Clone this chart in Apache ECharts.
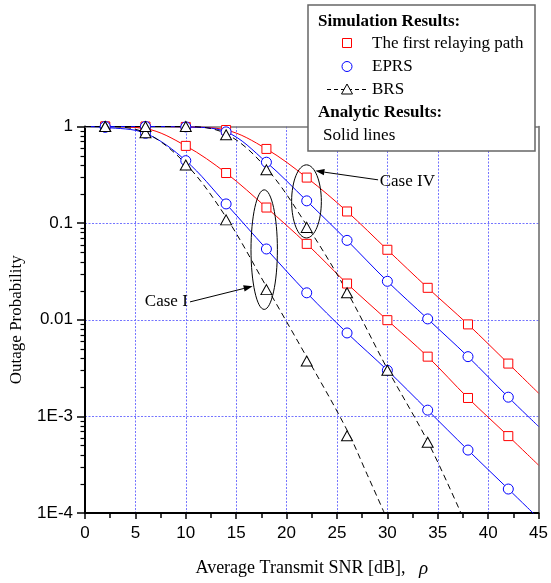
<!DOCTYPE html>
<html>
<head>
<meta charset="utf-8">
<script src="https://cdn.jsdelivr.net/npm/echarts@6/dist/echarts.min.js"></script>
<style>
html, body { margin: 0; padding: 0; background: #fff; }
#chart { width: 551px; height: 583px; }
</style>
</head>
<body>
<div id="chart"></div>
<script>
// ---- values ----
// simulation markers (every 4 dB)
const markerSnr = [2, 6, 10, 14, 18, 22, 26, 30, 34, 38, 42];
const firstPathI = [1, 0.95, 0.63, 0.33, 0.145, 0.061, 0.0237, 0.0099, 0.00415, 0.00155, 0.000625];
const firstPathIV = [1, 1, 0.99, 0.92, 0.586, 0.296, 0.132, 0.053, 0.0214, 0.00895, 0.00352];
const eprsI = [0.98, 0.85, 0.443, 0.158, 0.054, 0.019, 0.0073, 0.003, 0.00116, 0.000448, 0.000177];
const eprsIV = [1, 1, 0.99, 0.88, 0.427, 0.17, 0.0663, 0.025, 0.0102, 0.00415, 0.00158];
const brsSnrI = [2, 6, 10, 14, 18, 22, 26];
const brsI = [1, 0.86, 0.40, 0.108, 0.0205, 0.00374, 0.00063];
const brsSnrIV = [2, 6, 10, 14, 18, 22, 26, 30, 34];
const brsIV = [1, 1, 1, 0.82, 0.356, 0.0903, 0.019, 0.003, 0.00054];

// analytic curves (solid)
const curveSnr = [0, 2, 6, 10, 14, 18, 22, 26, 30, 34, 38, 42, 45];
const firstPathCurveI = [1, 1, 0.95, 0.63, 0.33, 0.145, 0.061, 0.0237, 0.0099, 0.00415, 0.00155, 0.000625, 0.000313];
const firstPathCurveIV = [1, 1, 1, 0.99, 0.92, 0.586, 0.296, 0.132, 0.053, 0.0214, 0.00895, 0.00352, 0.00174];
const eprsCurveI = [1, 0.98, 0.85, 0.443, 0.158, 0.054, 0.019, 0.0073, 0.003, 0.00116, 0.000448, 0.000177, 0.000088];
const eprsCurveIV = [1, 1, 1, 0.99, 0.88, 0.427, 0.17, 0.0663, 0.025, 0.0102, 0.00415, 0.00158, 0.000787];
// BRS dashed curves
const brsCurveSnrI = [0, 2, 6, 10, 14, 18, 22, 26, 28, 29.7];
const brsCurveI = [1, 1, 0.86, 0.41, 0.115, 0.022, 0.0041, 0.00072, 0.00025, 0.0001];
const brsCurveSnrIV = [0, 6, 10, 14, 18, 22, 26, 30, 34, 37.3];
const brsCurveIV = [1, 1, 1, 0.84, 0.37, 0.095, 0.0195, 0.0031, 0.00055, 0.0001];

// axis ticks
const yTickValues = [1e-4, 1e-3, 0.01, 0.1, 1];
const yTickLabels = ['1E-4', '1E-3', '0.01', '0.1', '1'];
const yMinorSteps = [2, 3, 4, 5, 6, 7, 8, 9];

// annotations: [x, y] in data units
const caseIEllipse = [[16.47, 0.221], [19.09, 0.0128]];
const caseIArrow = [[10.42, 0.0153], [16.63, 0.0222]];
const caseILabel = [10.2, 0.0155];
const caseIVEllipse = [[20.5, 0.401], [23.45, 0.0702]];
const caseIVArrow = [[29.08, 0.2805], [22.86, 0.3474]];
const caseIVLabel = [29.24, 0.269];

const SANS = '"Liberation Sans", Arial, sans-serif';
const SERIF = '"Liberation Serif", "Times New Roman", serif';
const RED = '#ff0000';
const BLUE = '#0000ff';
const GRID = '#7474ff';

const zip = (xs, ys) => xs.map((x, i) => [x, ys[i]]);

function curve(name, xs, ys, color, dashed) {
  return {
    name: name,
    type: 'line',
    data: zip(xs, ys),
    smooth: 0.35,
    showSymbol: false,
    clip: true,
    silent: true,
    lineStyle: { color: color, width: 1, type: dashed ? [6, 4] : 'solid' },
    z: 2
  };
}

function markers(name, xs, ys, symbol, size, color) {
  return {
    name: name,
    type: 'scatter',
    data: zip(xs, ys),
    symbol: symbol,
    symbolSize: size,
    itemStyle: { color: '#fff', borderColor: color, borderWidth: 1, opacity: 1 },
    z: 3
  };
}

const chart = echarts.init(document.getElementById('chart'));

const option = {
  animation: false,
  backgroundColor: '#fff',
  grid: { left: 84, right: 9, top: 126.5, bottom: 69 },
  xAxis: [{
    type: 'value',
    min: 0, max: 45, interval: 5,
    axisLine: { show: true, onZero: false, lineStyle: { color: '#000', width: 2 } },
    axisTick: { show: true, inside: false, length: 6, lineStyle: { color: '#000', width: 1.5 } },
    minorTick: { show: true, splitNumber: 2, length: 5, lineStyle: { color: '#000', width: 1.5 } },
    axisLabel: { color: '#000', fontFamily: SANS, fontSize: 17, margin: 12 },
    splitLine: { show: true, showMinLine: false, showMaxLine: false, lineStyle: { color: GRID, type: [2, 1.5], width: 1 } },
    name: 'Average Transmit SNR [dB],   {i|ρ}',
    nameLocation: 'middle',
    nameGap: 46,
    nameTextStyle: {
      color: '#000', fontFamily: SERIF, fontSize: 18,
      rich: { i: { fontStyle: 'italic', fontFamily: SERIF, fontSize: 19, color: '#000' } }
    }
  }, {
    type: 'value', position: 'top', min: 0, max: 45,
    axisLine: { show: true, onZero: false, lineStyle: { color: '#777', width: 1.5 } },
    axisTick: { show: false }, axisLabel: { show: false }, splitLine: { show: false }
  }],
  yAxis: [{
    type: 'log', logBase: 10, min: 1e-4, max: 1,
    axisLine: { show: true, onZero: false, lineStyle: { color: '#000', width: 2 } },
    axisTick: { show: true, inside: false, length: 8, lineStyle: { color: '#000', width: 1.5 } },
    axisLabel: {
      color: '#000', fontFamily: SANS, fontSize: 17, margin: 12,
      formatter: function (v) {
        const i = yTickValues.findIndex(t => Math.abs(Math.log10(t) - Math.log10(v)) < 1e-6);
        return i >= 0 ? yTickLabels[i] : '';
      }
    },
    splitLine: { show: true, showMinLine: false, showMaxLine: false, lineStyle: { color: GRID, type: [2, 1.5], width: 1 } },
    name: 'Outage Probability',
    nameLocation: 'middle',
    nameGap: 60,
    nameTextStyle: { color: '#000', fontFamily: SERIF, fontSize: 17, padding: [0, 0, 0, 0] }
  }, {
    type: 'log', logBase: 10, min: 1e-4, max: 1, position: 'right',
    axisLine: { show: true, onZero: false, lineStyle: { color: '#666', width: 1.5 } },
    axisTick: { show: false }, axisLabel: { show: false }, splitLine: { show: false }
  }],
  series: [
    curve('first path I', curveSnr, firstPathCurveI, RED, false),
    curve('first path IV', curveSnr, firstPathCurveIV, RED, false),
    curve('EPRS I', curveSnr, eprsCurveI, BLUE, false),
    curve('EPRS IV', curveSnr, eprsCurveIV, BLUE, false),
    curve('BRS I', brsCurveSnrI, brsCurveI, '#000', true),
    curve('BRS IV', brsCurveSnrIV, brsCurveIV, '#000', true),
    markers('The first relaying path', markerSnr, firstPathI, 'rect', 9, RED),
    markers('The first relaying path', markerSnr, firstPathIV, 'rect', 9, RED),
    markers('EPRS', markerSnr, eprsI, 'circle', 10, BLUE),
    markers('EPRS', markerSnr, eprsIV, 'circle', 10, BLUE),
    markers('BRS', brsSnrI, brsI, 'triangle', [11, 10], '#000'),
    markers('BRS', brsSnrIV, brsIV, 'triangle', [11, 10], '#000')
  ]
};
chart.setOption(option);

// ---- log minor ticks, annotations and the legend box ----
const toPx = p => chart.convertToPixel({ xAxisIndex: 0, yAxisIndex: 0 }, p);

const minorTicks = [];
yTickValues.slice(0, -1).forEach(function (decade) {
  yMinorSteps.forEach(function (m) {
    const p = toPx([0, decade * m]);
    const y = Math.round(p[1]) + 0.5;
    minorTicks.push({
      type: 'line', z: 40, silent: true,
      shape: { x1: p[0] - 4.5, y1: y, x2: p[0], y2: y },
      style: { stroke: '#000', lineWidth: 1.2 }
    });
  });
});

function ellipse(corners) {
  const a = toPx(corners[0]), b = toPx(corners[1]);
  return {
    type: 'ellipse', z: 50, silent: true,
    shape: { cx: (a[0] + b[0]) / 2, cy: (a[1] + b[1]) / 2, rx: Math.abs(b[0] - a[0]) / 2, ry: Math.abs(b[1] - a[1]) / 2 },
    style: { fill: null, stroke: '#000', lineWidth: 1 }
  };
}

function arrow(pts) {
  const a = toPx(pts[0]), b = toPx(pts[1]);
  const dx = b[0] - a[0], dy = b[1] - a[1];
  const len = Math.sqrt(dx * dx + dy * dy), ux = dx / len, uy = dy / len;
  const hl = 9, hw = 3.2;
  const bx = b[0] - ux * hl, by = b[1] - uy * hl;
  return [{
    type: 'line', z: 50, silent: true,
    shape: { x1: a[0], y1: a[1], x2: bx, y2: by },
    style: { stroke: '#000', lineWidth: 1 }
  }, {
    type: 'polygon', z: 50, silent: true,
    shape: { points: [[b[0], b[1]], [bx - uy * hw, by + ux * hw], [bx + uy * hw, by - ux * hw]] },
    style: { fill: '#000' }
  }];
}

function label(text, p, align) {
  const q = toPx(p);
  return {
    type: 'text', z: 50, silent: true, x: q[0], y: q[1],
    style: { text: text, fill: '#000', font: '17px ' + SERIF, align: align, verticalAlign: 'middle' }
  };
}

function legendText(text, x, y, bold) {
  return {
    type: 'text', z: 101, x: x, y: y,
    style: { text: text, fill: '#000', font: (bold ? 'bold ' : '') + '17px ' + SERIF, verticalAlign: 'middle' }
  };
}

const legendBox = {
  type: 'group', z: 100,
  children: [
    { type: 'rect', z: 100, shape: { x: 308, y: 5, width: 227, height: 146 }, style: { fill: '#fff', stroke: '#666', lineWidth: 1.5 } },
    legendText('Simulation Results:', 318, 22, true),
    { type: 'rect', z: 101, shape: { x: 342.5, y: 38.5, width: 9, height: 9 }, style: { fill: '#fff', stroke: RED, lineWidth: 1 } },
    legendText('The first relaying path', 372, 43.5, false),
    { type: 'circle', z: 101, shape: { cx: 347, cy: 66.5, r: 5 }, style: { fill: '#fff', stroke: BLUE, lineWidth: 1 } },
    legendText('EPRS', 372, 66.5, false),
    { type: 'line', z: 101, shape: { x1: 327, y1: 89.5, x2: 368, y2: 89.5 }, style: { stroke: '#000', lineWidth: 1, lineDash: [4, 3] } },
    { type: 'polygon', z: 102, shape: { points: [[347, 84], [341.5, 94], [352.5, 94]] }, style: { fill: '#fff', stroke: '#000', lineWidth: 1 } },
    legendText('BRS', 372, 89.5, false),
    legendText('Analytic Results:', 318, 112.5, true),
    legendText('Solid lines', 323, 136, false)
  ]
};

chart.setOption({
  graphic: minorTicks.concat([
    ellipse(caseIEllipse),
    ellipse(caseIVEllipse),
    ...arrow(caseIArrow),
    ...arrow(caseIVArrow),
    label('Case I', caseILabel, 'right'),
    label('Case IV', caseIVLabel, 'left'),
    legendBox
  ])
});
</script>
</body>
</html>
